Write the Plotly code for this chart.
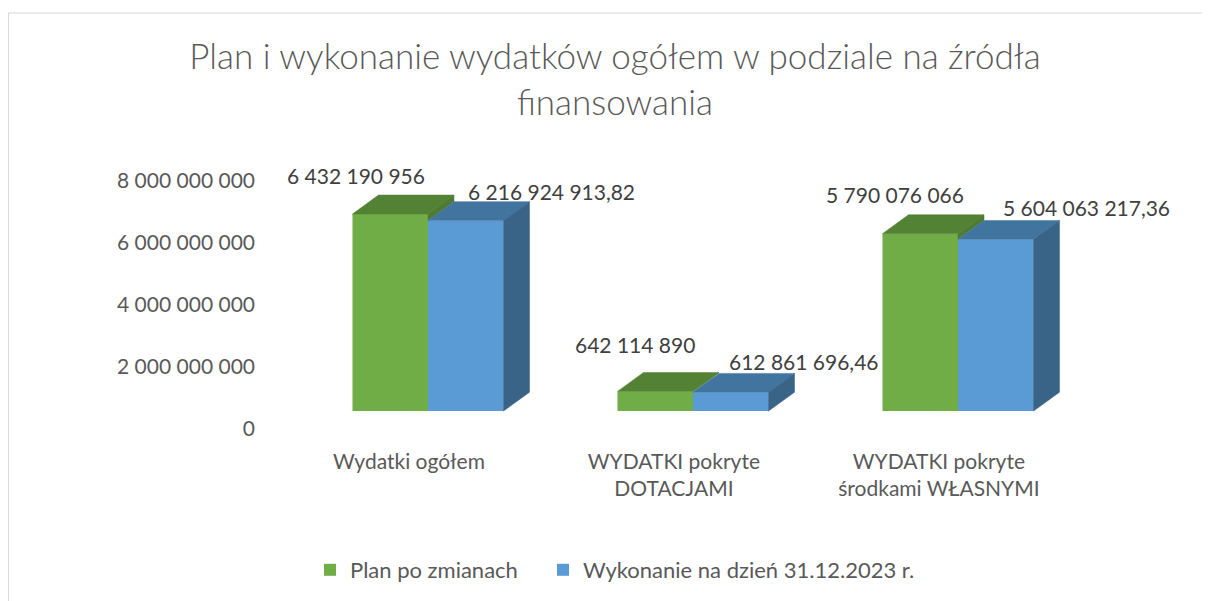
import plotly.graph_objects as go

# ---------------- data ----------------
categories = ["Wydatki ogółem", "WYDATKI pokryte<br>DOTACJAMI", "WYDATKI pokryte<br>środkami WŁASNYMI"]
plan_values = [6432190956, 642114890, 5790076066]
exec_values = [6216924913.82, 612861696.46, 5604063217.36]
series_names = ["Plan po zmianach", "Wykonanie na dzień 31.12.2023 r."]
tick_values = [0, 2000000000, 4000000000, 6000000000, 8000000000]
title_text = "Plan i wykonanie wydatków ogółem w podziale na źródła<br>finansowania"


def fmt(v, decimals):
    s = f"{v:,.{decimals}f}"
    s = s.replace(",", " ").replace(".", ",")
    return s


# ---------------- layout geometry ----------------
OFF = 8                                  # default body margin of the html page
W, H = 1210 - OFF, 601 - OFF
ML, MR, MT, MB = 254, 12, 142, 161
PW, PH = W - ML - MR, H - MT - MB
CAT_PX0, CAT_STEP = 428 - OFF, 265
x_range = [(ML - CAT_PX0) / CAT_STEP, (W - MR - CAT_PX0) / CAT_STEP]

y_bottom_px = H - MB
bar_scale = 30.75e-9
bar_zero_px = 412 - OFF
y_range = [-(y_bottom_px - bar_zero_px) / bar_scale, 0]
y_range[1] = y_range[0] + PH / bar_scale

tick_scale = 31.125e-9
tick_zero_px = 430 - OFF
y2_range = [-(y_bottom_px - tick_zero_px) / tick_scale, 0]
y2_range[1] = y2_range[0] + PH / tick_scale

BW = 0.285
DX = 26 / CAT_STEP
DY = 19 / bar_scale

GREEN, GREEN_TOP, GREEN_SIDE = "#70AD47", "#548235", "#4E7A31"
BLUE, BLUE_TOP, BLUE_SIDE = "#5B9BD5", "#4274A0", "#3A6388"
TXT = "#595959"
FONT = "Lato"

fig = go.Figure()
xs = list(range(len(categories)))


def poly(xp, yp, color):
    fig.add_trace(go.Scatter(
        x=xp, y=yp, fill="toself", fillcolor=color, mode="lines",
        line=dict(width=0.5, color=color), showlegend=False, hoverinfo="skip"))


# front faces (bars)
fig.add_trace(go.Bar(x=xs, y=plan_values, width=BW, offset=-BW, name=series_names[0],
                     marker=dict(color=GREEN, line=dict(width=0)), hoverinfo="skip",
                     legend="legend"))
fig.add_trace(go.Bar(x=xs, y=exec_values, width=BW, offset=0, name=series_names[1],
                     marker=dict(color=BLUE, line=dict(width=0)), hoverinfo="skip",
                     legend="legend2"))

# depth faces for the first series (side visible only above the neighbouring bar)
for i in xs:
    v, w = plan_values[i], exec_values[i]
    x0, x1 = i - BW, i
    poly([x0, x1, x1 + DX, x0 + DX, x0], [v, v, v + DY, v + DY, v], GREEN_TOP)
    if v > w:
        poly([x1, x1 + DX, x1 + DX, x1, x1], [w, w + DY, v + DY, v, w], GREEN_SIDE)

# depth faces for the second series
for i in xs:
    w = exec_values[i]
    x0, x1 = i, i + BW
    poly([x0, x1, x1 + DX, x0 + DX, x0], [w, w, w + DY, w + DY, w], BLUE_TOP)
    poly([x1, x1 + DX, x1 + DX, x1, x1], [0, DY, w + DY, w, 0], BLUE_SIDE)

# data labels
green_dx = [-1, 4, 8]
green_dy = [38, 47, 39]
blue_dx = [38, 34, 43]
blue_dy = [29, 31, 32]
for i in xs:
    fig.add_annotation(x=i, y=plan_values[i], xref="x", yref="y", text=fmt(plan_values[i], 0),
                       showarrow=False, xanchor="right", yanchor="middle",
                       xshift=green_dx[i], yshift=green_dy[i],
                       font=dict(family=FONT, size=21, color="#404040"))
    fig.add_annotation(x=i, y=exec_values[i], xref="x", yref="y", text=fmt(exec_values[i], 2),
                       showarrow=False, xanchor="left", yanchor="middle",
                       xshift=blue_dx[i], yshift=blue_dy[i],
                       font=dict(family=FONT, size=21, color="#404040"))

# chart-area border
fig.add_shape(type="rect", xref="paper", yref="paper",
              x0=(0.5 - ML) / PW, x1=(W + 5 - ML) / PW,
              y0=(y_bottom_px - (H + 5)) / PH, y1=(y_bottom_px - 4.5) / PH,
              line=dict(color="#D9D9D9", width=1), fillcolor="rgba(0,0,0,0)", layer="below")

legend_style = dict(orientation="h", xanchor="left", yanchor="middle",
                    y=(y_bottom_px - (570 - OFF)) / PH,
                    font=dict(family=FONT, size=22, color=TXT), itemwidth=30,
                    bgcolor="rgba(0,0,0,0)")

fig.update_layout(
    width=W, height=H,
    margin=dict(l=ML, r=MR, t=MT, b=MB, pad=0),
    paper_bgcolor="white", plot_bgcolor="white",
    barmode="overlay",
    title=dict(text=title_text, x=(615 - OFF) / W, xanchor="center", xref="container",
               y=1 - 61 / H, yanchor="middle", yref="container",
               font=dict(family=FONT, size=35, color=TXT, weight=300)),
    xaxis=dict(range=x_range, tickvals=[i - 0.072 for i in xs], ticktext=categories,
               showgrid=False, zeroline=False, showline=False, ticks="",
               tickfont=dict(family=FONT, size=21, color=TXT), ticklabelstandoff=8),
    yaxis=dict(range=y_range, showgrid=False, zeroline=False, showline=False,
               showticklabels=False, ticks=""),
    yaxis2=dict(range=y2_range, overlaying="y", side="left", showgrid=False, zeroline=False,
                showline=False, ticks="", tickvals=tick_values,
                ticktext=[fmt(v, 0) for v in tick_values],
                tickfont=dict(family=FONT, size=21, color=TXT), ticklabelstandoff=6),
    legend=dict(x=(310 - OFF - ML) / PW, **legend_style),
    legend2=dict(x=(543 - OFF - ML) / PW, **legend_style),
    showlegend=True,
)

fig.add_trace(go.Scatter(x=[x_range[0]], y=[0], yaxis="y2", mode="markers",
                         marker=dict(opacity=0), showlegend=False, hoverinfo="skip"))

fig.write_html("out.html")
